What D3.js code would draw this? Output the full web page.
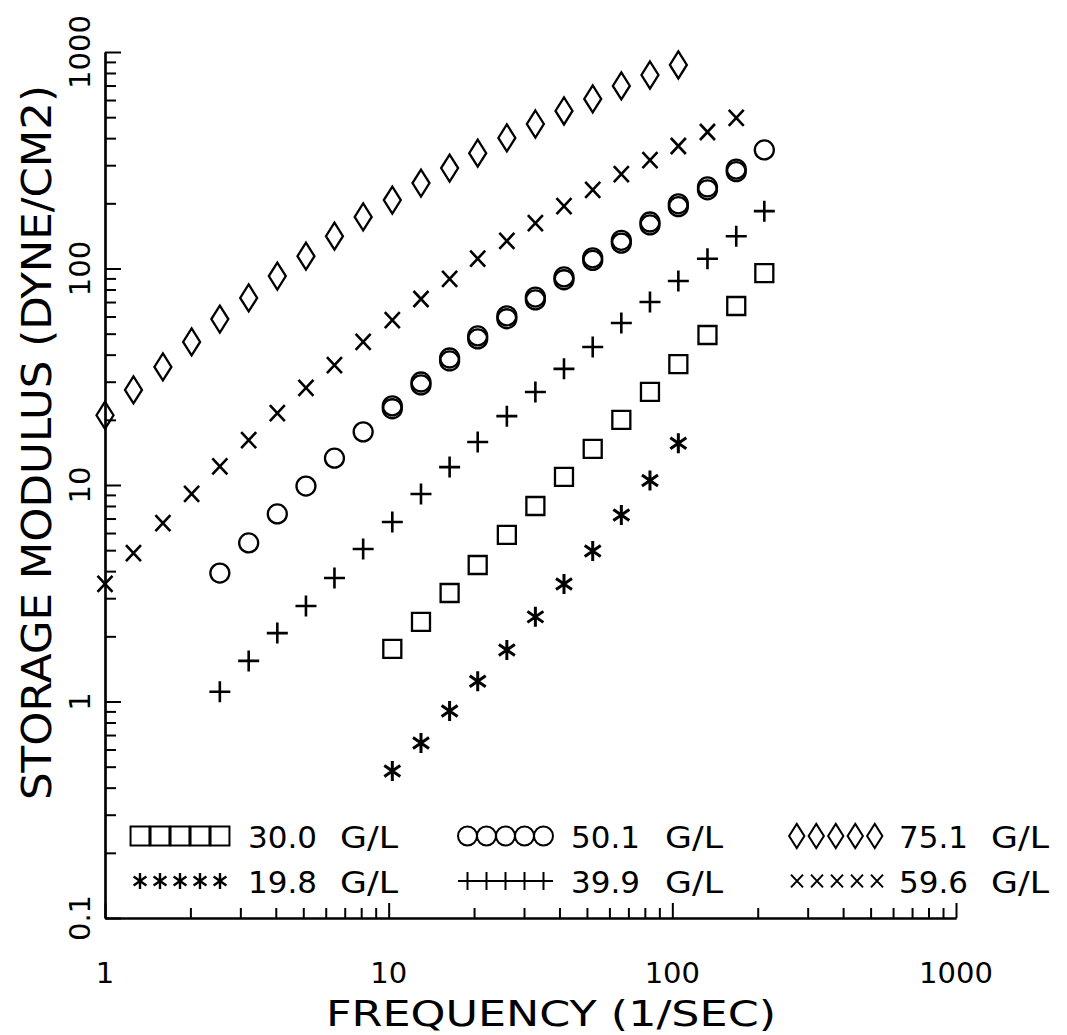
<!DOCTYPE html>
<html>
<head>
<meta charset="utf-8">
<script src="https://cdn.jsdelivr.net/npm/d3@7"></script>
<style>
  body { margin: 0; background: #fff; }
  svg { display: block; }
  text { font-family: "DejaVu Sans", "Liberation Sans", sans-serif; fill: #000; }
</style>
</head>
<body>
<svg id="chart" width="1067" height="1035"></svg>
<script>
// Sweep frequencies (1/sec), one per step of the oscillatory sweep
const frequencies = [1, 1.26, 1.60, 2.02, 2.54, 3.21, 4.05, 5.11, 6.44, 8.13,
  10.3, 13.0, 16.4, 20.6, 26.1, 32.9, 41.5, 52.4, 66.1, 83.4, 105, 133, 168, 211];

// Storage modulus (dyne/cm2) for each concentration, starting at sweep step *First
const g751 = [21.0, 27.5, 35.1, 45.8, 58.4, 73.1, 92.3, 114, 141, 173, 207, 248, 291, 341, 401, 465, 534, 607, 697, 783, 871];
const g751First = 0;
const g596 = [3.49, 4.85, 6.67, 9.09, 12.2, 16.1, 21.5, 28.1, 35.8, 45.8, 57.8, 72.3, 89.5, 111, 134, 162, 194, 231, 273, 317, 368, 427, 496];
const g596First = 0;
const g501 = [3.92, 5.40, 7.35, 9.89, 13.3, 17.6, 23.2, 29.9, 38.6, 48.8, 60.4, 73.8, 91.4, 112, 135, 164, 199, 238, 288, 353];
const g501First = 4;
const g501Repeat = [22.5, 29.0, 37.4, 47.3, 58.6, 71.6, 88.7, 109, 131, 159, 193, 231, 280];
const g501RepeatFirst = 10;
const g399 = [1.11, 1.54, 2.07, 2.76, 3.72, 5.06, 6.75, 9.08, 12.1, 15.8, 20.8, 26.9, 34.4, 43.4, 56.0, 70.0, 87.5, 111, 141, 184];
const g399First = 4;
const g300 = [1.75, 2.33, 3.17, 4.27, 5.88, 8.00, 10.9, 14.7, 20.0, 26.9, 36.2, 49.3, 67.1, 95.3];
const g300First = 10;
const g198 = [0.478, 0.643, 0.904, 1.24, 1.73, 2.46, 3.49, 4.96, 7.26, 10.5, 15.6];
const g198First = 10;

// Axis labels
const xTickLabels = ["1", "10", "100", "1000"];
const yTickLabels = ["0.1", "1", "10", "100", "1000"];
const xTitle = "FREQUENCY (1/SEC)";
const yTitle = "STORAGE MODULUS (DYNE/CM2)";

// Legend: concentration labels in two rows of three
const legendRow1 = [{ sym: "square", conc: "30.0" }, { sym: "circle", conc: "50.1" }, { sym: "diamond", conc: "75.1" }];
const legendRow2 = [{ sym: "star", conc: "19.8" }, { sym: "plus", conc: "39.9" }, { sym: "cross", conc: "59.6" }];

const series = [
  { values: g751, first: g751First, sym: "diamond" },
  { values: g596, first: g596First, sym: "cross" },
  { values: g501, first: g501First, sym: "circle" },
  { values: g501Repeat, first: g501RepeatFirst, sym: "circle" },
  { values: g399, first: g399First, sym: "plus" },
  { values: g300, first: g300First, sym: "square" },
  { values: g198, first: g198First, sym: "star" }
];

const svg = d3.select("#chart");

const x = d3.scaleLog().domain([1, 1000]).range([105, 956]);
const y = d3.scaleLog().domain([0.1, 1000]).range([918, 52]);

// Marker outlines centred on the origin
function shape(sym, s) {
  const p = d3.path();
  if (sym === "square") {
    const h = 9 * s; p.rect(-h, -h, 2 * h, 2 * h);
  } else if (sym === "circle") {
    p.moveTo(9.5 * s, 0); p.arc(0, 0, 9.5 * s, 0, 2 * Math.PI);
  } else if (sym === "diamond") {
    const w = 8.5 * s, h = 13.5 * s;
    p.moveTo(0, -h); p.lineTo(w, 0); p.lineTo(0, h); p.lineTo(-w, 0); p.closePath();
  } else if (sym === "cross") {
    const w = 7.5 * s, h = 8 * s;
    p.moveTo(-w, -h); p.lineTo(w, h); p.moveTo(-w, h); p.lineTo(w, -h);
  } else if (sym === "plus") {
    const h = 10.5 * s;
    p.moveTo(-h, 0); p.lineTo(h, 0); p.moveTo(0, -h); p.lineTo(0, h);
  } else if (sym === "star") {
    const v = 10 * s, dx = 8 * s, dy = 5.5 * s;
    p.moveTo(0, -v); p.lineTo(0, v);
    p.moveTo(-dx, -dy); p.lineTo(dx, dy);
    p.moveTo(-dx, dy); p.lineTo(dx, -dy);
  }
  return p.toString();
}
const strokeFor = sym => sym === "star" ? 3 : (sym === "plus" || sym === "cross" ? 2.6 : 2.3);

// Ticks: every integer multiple within each decade
const decadeTicks = (lo, hi) => {
  const t = [];
  for (let d = lo; d < hi; d *= 10) for (let m = 1; m < 10; m++) t.push(+(m * d).toPrecision(3));
  t.push(hi);
  return t;
};
const xAll = decadeTicks(1, 1000);
const yAll = decadeTicks(0.1, 1000);
const isMajor = v => Math.abs(Math.log10(v) - Math.round(Math.log10(v))) < 1e-6;

const axisStyle = g => {
  g.selectAll("path.domain").attr("stroke", "#000").attr("stroke-width", 2.2);
  g.selectAll(".tick line").attr("stroke", "#000").attr("stroke-width", 2);
  g.selectAll(".tick text").remove();
};

// Y axis (ticks pointing into the plot)
svg.append("g").attr("transform", "translate(105,0)")
  .call(d3.axisLeft(y).tickValues(yAll.filter(v => !isMajor(v))).tickSizeInner(-11).tickSizeOuter(0))
  .call(axisStyle);
svg.append("g").attr("transform", "translate(105,0)")
  .call(d3.axisLeft(y).tickValues(yAll.filter(isMajor)).tickSizeInner(-16).tickSizeOuter(0))
  .call(axisStyle);

// X axis (ticks pointing up)
svg.append("g").attr("transform", "translate(0,918)")
  .call(d3.axisBottom(x).tickValues(xAll.filter(v => !isMajor(v))).tickSizeInner(-10).tickSizeOuter(0))
  .call(axisStyle);
svg.append("g").attr("transform", "translate(0,918)")
  .call(d3.axisBottom(x).tickValues(xAll.filter(isMajor)).tickSizeInner(-15).tickSizeOuter(0))
  .call(axisStyle);

// Tick labels
svg.append("g").selectAll("text").data(xTickLabels).join("text")
  .attr("x", d => x(+d)).attr("y", 983)
  .attr("text-anchor", "middle").attr("font-size", 29)
  .text(d => d);
svg.append("g").selectAll("text").data(yTickLabels).join("text")
  .attr("transform", d => `translate(90,${y(+d)}) rotate(-90)`)
  .attr("text-anchor", "middle").attr("font-size", 29)
  .text(d => d);

// Axis titles
svg.append("text").attr("x", 326).attr("y", 1026).attr("font-size", 36)
  .attr("textLength", 450).attr("lengthAdjust", "spacingAndGlyphs").text(xTitle);
svg.append("text").attr("transform", "translate(51,800) rotate(-90)").attr("font-size", 41)
  .attr("textLength", 715).attr("lengthAdjust", "spacingAndGlyphs").text(yTitle);

// Data markers
const marks = svg.append("g").attr("fill", "none").attr("stroke", "#000");
series.forEach(s => {
  marks.append("g").attr("stroke-width", strokeFor(s.sym))
    .selectAll("path")
    .data(s.values.map((v, i) => ({ f: frequencies[s.first + i], v })))
    .join("path")
    .attr("transform", d => `translate(${x(d.f)},${y(d.v)})`)
    .attr("d", shape(s.sym, 1));
});

// Legend
const legendCols = [130, 458, 787];
const legendText = [118, 113, 112];
const legendUnit = [210, 207, 204];
const legendSym = {
  square: { w: 20, s: 1.05, sw: 2 },
  circle: { w: 19, s: 1.0, sw: 2 },
  diamond: { w: 19.5, s: 0.9, sw: 2 },
  star: { w: 20, s: 0.8, sw: 2.4 },
  plus: { w: 19, s: 0.9, sw: 2 },
  cross: { w: 20, s: 0.8, sw: 2 }
};
const legend = svg.append("g");
[[legendRow1, 836, 848], [legendRow2, 881, 893]].forEach(([row, cy, base]) => {
  row.forEach((item, c) => {
    const cfg = legendSym[item.sym];
    const x0 = legendCols[c];
    const g = legend.append("g").attr("fill", "none").attr("stroke", "#000").attr("stroke-width", cfg.sw);
    if (item.sym === "plus") {
      g.append("line").attr("x1", x0).attr("x2", x0 + 5 * cfg.w).attr("y1", cy).attr("y2", cy);
      g.selectAll("line.v").data(d3.range(5)).join("line").attr("class", "v")
        .attr("x1", i => x0 + cfg.w * (i + 0.5)).attr("x2", i => x0 + cfg.w * (i + 0.5))
        .attr("y1", cy - 9).attr("y2", cy + 9);
    } else {
      g.selectAll("path").data(d3.range(5)).join("path")
        .attr("transform", i => `translate(${x0 + cfg.w * (i + 0.5)},${cy})`)
        .attr("d", shape(item.sym, cfg.s));
    }
    legend.append("text").attr("x", x0 + legendText[c]).attr("y", base).attr("font-size", 31).text(item.conc);
    legend.append("text").attr("x", x0 + legendUnit[c]).attr("y", base).attr("font-size", 31)
      .attr("textLength", 58).attr("lengthAdjust", "spacingAndGlyphs").text("G/L");
  });
});
</script>
</body>
</html>
